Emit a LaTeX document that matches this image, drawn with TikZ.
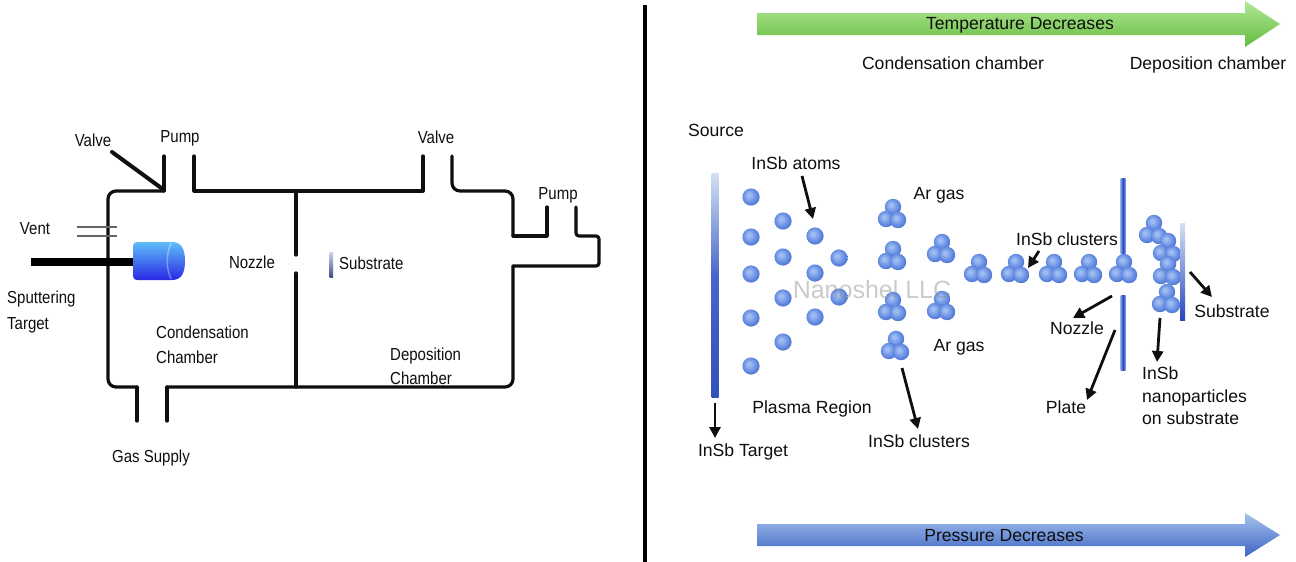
\documentclass[tikz,border=0pt]{standalone}
\usepackage{fontspec}
\usepackage{graphicx}
\setmainfont{Liberation Sans}
\usetikzlibrary{arrows.meta}

% palette
\definecolor{sphHi}{RGB}{160,190,242}
\definecolor{sphMid}{RGB}{100,140,226}
\definecolor{sphLo}{RGB}{68,102,200}
\definecolor{cylTop}{RGB}{95,190,250}
\definecolor{cylMid}{RGB}{70,120,245}
\definecolor{cylBot}{RGB}{40,40,228}
\definecolor{tgtD}{RGB}{50,80,185}
\definecolor{tgtM}{RGB}{72,102,202}
\definecolor{tgtL}{RGB}{212,226,242}
\definecolor{plateD}{RGB}{40,70,190}
\definecolor{plateL}{RGB}{135,162,228}
\definecolor{greenTop}{RGB}{178,232,150}
\definecolor{greenBot}{RGB}{100,188,62}
\definecolor{blueTop}{RGB}{165,195,238}
\definecolor{blueBot}{RGB}{62,100,196}
\definecolor{subTop}{RGB}{205,214,232}
\definecolor{subBot}{RGB}{62,82,135}
\definecolor{ink}{RGB}{15,15,15}

% shaded ball for atoms and clusters
\pgfdeclareradialshading{sph}{\pgfqpoint{-7bp}{7bp}}{%
  color(0bp)=(sphHi); color(4bp)=(sphHi); color(20bp)=(sphMid);
  color(32bp)=(sphLo); color(50bp)=(sphLo)}
% sputtering target bar: pale on top, deep blue below
\pgfdeclareverticalshading{tgtbar}{100bp}{%
  color(0bp)=(tgtD); color(25bp)=(tgtD); color(52bp)=(tgtM);
  color(75bp)=(tgtL); color(100bp)=(tgtL)}

% apparatus labels are set slightly tall
\newcommand{\tallText}[1]{\scalebox{1}[1.16]{#1}}

\tikzset{
  wall/.style={line width=3.2pt, line cap=round, line join=round, ink},
  pointer/.style={line width=2.8pt, ink, -{Triangle[length=11pt,width=11pt]}},
  lbl/.style={font=\fontsize{15}{17}\selectfont, inner sep=0pt, text=ink,
              text height=12.5pt, text depth=0pt},
  rlbl/.style={font=\fontsize{17.6}{20}\selectfont, inner sep=0pt, text=ink,
               text height=12.6pt, text depth=0pt},
  atom/.pic={\shade[shading=sph] (0,0) circle[radius=8.6pt];},
  cluster/.pic={
    \shade[shading=sph] (1,-8) circle[radius=8.2pt];
    \shade[shading=sph] (-6,4) circle[radius=8.2pt];
    \shade[shading=sph] (6,5) circle[radius=8.2pt];},
}

\begin{document}
\begin{tikzpicture}[x=1pt,y=-1pt]
\useasboundingbox (0,0) rectangle (1296,562);
\fill[white] (0,0) rectangle (1296,562);

% ================= apparatus (left) =================
% condensation chamber walls
\draw[wall, rounded corners=8pt] (137,387) -- (108,387) -- (108,191) -- (164,191);
\draw[wall] (137,421) -- (137,387);
\draw[wall] (164,191) -- (164,156);
% deposition chamber walls
\draw[wall] (194,156) -- (194,191) -- (423,191) -- (423,156);
\draw[wall, rounded corners=8pt] (452,156) -- (452,191) -- (513,191) -- (513,236);
\draw[wall] (513,236) -- (547,236) -- (547,207);
\draw[wall, rounded corners=3pt] (576,207) -- (576,236) -- (599,236) -- (599,266) -- (513,266);
\draw[wall, rounded corners=8pt] (513,266) -- (513,387) -- (167,387);
\draw[wall] (167,387) -- (167,421);
% nozzle partition
\draw[wall] (296,191) -- (296,255);
\draw[wall] (296,273) -- (296,387);
% valve lever
\draw[line width=4pt, ink, line cap=round] (112,152) -- (164,190);
% vent
\draw[line width=1.2pt, black!60] (77,227) -- (117,227);
\draw[line width=1.2pt, black!60] (77,236) -- (117,236);
% sputtering gun: rod and head
\draw[line width=8pt, black] (31,262) -- (136,262);
\shade[top color=cylTop, middle color=cylMid, bottom color=cylBot]
  (138,242) -- (172,242) .. controls (182,242) and (185,250) .. (185,261)
  .. controls (185,272) and (182,280) .. (172,280) -- (138,280)
  .. controls (134,280) and (133,278) .. (133,275) -- (133,247)
  .. controls (133,244) and (134,242) .. (138,242) -- cycle;
\draw[white, opacity=0.35, line width=1.4pt]
  (171,243) .. controls (166,255) and (166,268) .. (171,279);
% small substrate
\shade[top color=subTop, bottom color=subBot] (329.5,252) rectangle (333,277);

\node[lbl] (valveA) at (93,140) {\tallText{Valve}};
\node[lbl] (pumpA) at (180,136) {\tallText{Pump}};
\node[lbl] (vent) at (35,228) {\tallText{Vent}};
\node[lbl, anchor=west] (sputter) at (7,297) {\tallText{Sputtering}};
\node[lbl, anchor=west] (sputterB) at (7,323) {\tallText{Target}};
\node[lbl] (nozzleA) at (252,262) {\tallText{Nozzle}};
\node[lbl, anchor=west] (substrateA) at (339,263) {\tallText{Substrate}};
\node[lbl, anchor=west] (condA) at (156,332) {\tallText{Condensation}};
\node[lbl, anchor=west] (condB) at (156,357) {\tallText{Chamber}};
\node[lbl, anchor=west] (depA) at (390,354) {\tallText{Deposition}};
\node[lbl, anchor=west] (depB) at (390,378) {\tallText{Chamber}};
\node[lbl] (gas) at (151,456) {\tallText{Gas Supply}};
\node[lbl] (valveB) at (436,137) {\tallText{Valve}};
\node[lbl] (pumpB) at (558,193) {\tallText{Pump}};

% divider
\draw[line width=4pt, black] (645,5) -- (645,562);

% ================= process (right) =================
% temperature and pressure arrows
\shade[top color=greenTop, bottom color=greenBot]
  (757,13) -- (1245,13) -- (1245,1) -- (1280,24) -- (1245,47) -- (1245,35) -- (757,35) -- cycle;
\shade[top color=blueTop, bottom color=blueBot]
  (757,524) -- (1245,524) -- (1245,513) -- (1280,535) -- (1245,557) -- (1245,546) -- (757,546) -- cycle;
\node[rlbl] (temp) at (1020,23) {Temperature Decreases};
\node[rlbl] (press) at (1004,535) {Pressure Decreases};
\node[rlbl] (condR) at (953,63) {Condensation chamber};
\node[rlbl] (depR) at (1208,63) {Deposition chamber};

% target
\shade[shading=tgtbar] (711.5,173) rectangle (718.5,397);
\coordinate (tgtBase) at (715,403);
\node[rlbl] (source) at (716,130) {Source};
\node[rlbl] (tgtLbl) at (743,450) {InSb Target};
\draw[pointer] (tgtBase) -- (715,438) coordinate (tgtTip);

% sputtered atoms
\foreach \y in {197,237,274,318,366} \pic at (751,\y) {atom};
\foreach \y in {221,257,298,342} \pic at (783,\y) {atom};
\foreach \y in {236,273,317} \pic at (815,\y) {atom};
\foreach \y in {258,297} \pic at (839,\y) {atom};

% clusters in flight
\foreach \p in {(892,215),(892,257),(892,308),(895,347),(941,250),(941,307),
                (978,270),(1015,270),(1053,270),(1088,270),(1123,270)}
  \pic at \p {cluster};

% nozzle plate
\shade[left color=plateL, right color=plateL, middle color=plateD] (1120.5,178) rectangle (1125.5,253);
\shade[left color=plateL, right color=plateL, middle color=plateD] (1120.5,295) rectangle (1125.5,370);

% substrate with deposited clusters
\foreach \p in {(1153,231),(1167,249),(1167,272),(1166,300)}
  \pic at \p {cluster};
\shade[top color=tgtL, bottom color=plateD] (1180,223) rectangle (1185,320);

% labels
\node[rlbl] (plasma) at (812,407) {Plasma Region};
\node[rlbl] (atoms) at (796,163) {InSb atoms};
\node[rlbl] (ar1) at (939,193) {Ar gas};
\node[rlbl] (ar2) at (959,345) {Ar gas};
\node[rlbl] (clA) at (1067,239) {InSb clusters};
\node[rlbl] (clB) at (919,441) {InSb clusters};
\node[rlbl] (nozR) at (1077,328) {Nozzle};
\node[rlbl] (plate) at (1066,407) {Plate};
\node[rlbl] (subR) at (1232,311) {Substrate};
\node[rlbl, anchor=west] (npA) at (1142,373) {InSb};
\node[rlbl, anchor=west] (npB) at (1142,396) {nanoparticles};
\node[rlbl, anchor=west] (npC) at (1142,418) {on substrate};

% pointers
\coordinate (atomsT) at (802,176);  \coordinate (atomsH) at (813,219);
\coordinate (clBT) at (902,368);    \coordinate (clBH) at (918,429);
\coordinate (clAT) at (1039,251);   \coordinate (clAH) at (1028,268);
\coordinate (nozT) at (1112,296);   \coordinate (nozH) at (1073,318);
\coordinate (plateT) at (1115,330); \coordinate (plateH) at (1087,400);
\coordinate (subT) at (1190,272);   \coordinate (subH) at (1212,297);
\coordinate (npT) at (1160,318);    \coordinate (npH) at (1157,362);
\draw[pointer] (atomsT) -- (atomsH);
\draw[pointer] (clBT) -- (clBH);
\draw[pointer] (clAT) -- (clAH);
\draw[pointer] (nozT) -- (nozH);
\draw[pointer] (plateT) -- (plateH);
\draw[pointer] (subT) -- (subH);
\draw[pointer] (npT) -- (npH);

% watermark
\node[font=\fontsize{25}{28}\selectfont, text=black!45, opacity=0.45, inner sep=0pt] (mark) at (872,290) {Nanoshel LLC};
\end{tikzpicture}
\end{document}
